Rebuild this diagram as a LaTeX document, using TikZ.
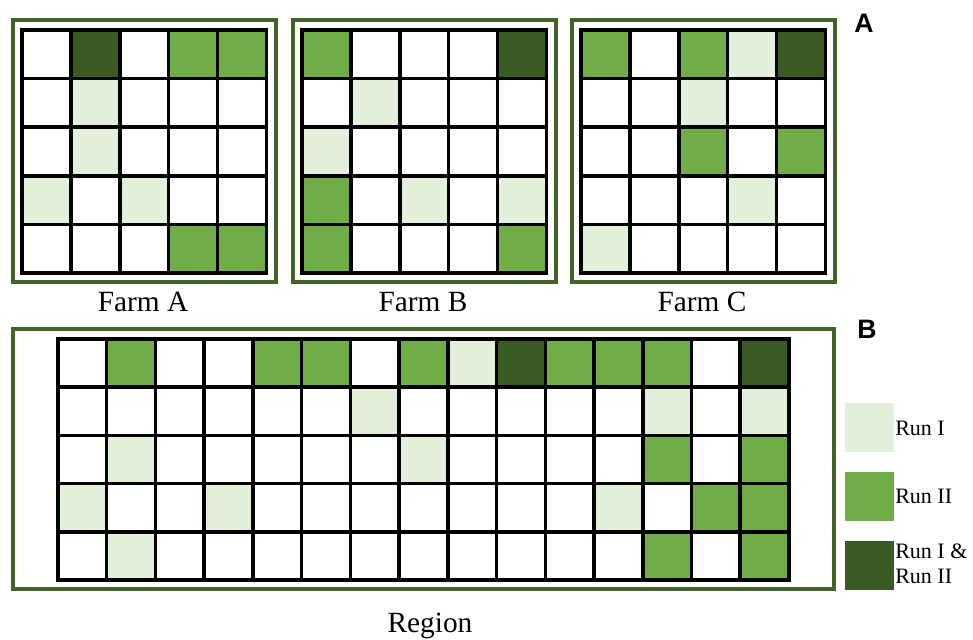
\documentclass[tikz,border=0pt]{standalone}
\usepackage{fontspec}
\setmainfont{Liberation Serif}
\newfontfamily\labfont{Liberation Sans}
\definecolor{cW}{HTML}{FFFFFF}
\definecolor{cL}{HTML}{E2EFDA}
\definecolor{cM}{HTML}{70AD47}
\definecolor{cD}{HTML}{3A5A23}
\definecolor{frmgreen}{HTML}{436429}
\tikzset{
  gridl/.style={line width=2.6pt, black, line cap=rect},
  frm/.style={line width=2.7pt, draw=frmgreen},
  caption/.style={font=\fontsize{22}{26}\selectfont, anchor=base, inner sep=0pt},
  legtext/.style={font=\fontsize{16.5}{19}\selectfont, anchor=base west, inner sep=0pt},
  legbox/.style={minimum size=36.75pt, inner sep=0pt, draw=none},
  panel/.style={font=\labfont\bfseries\fontsize{20}{23}\selectfont, anchor=base, inner sep=0pt}
}
\newcommand\mygrid[7]{%
  \foreach \rowlist [count=\rr] in {#7} {
    \foreach \cc [count=\ii] in \rowlist {
      \fill[fill=c\cc] ({#1+(\ii-1)*#3},{#2+(\rr-1)*#4}) rectangle ++(#3,#4);
    }
  }
  \foreach \ii in {0,...,#5} \draw[gridl] ({#1+\ii*#3},#2) -- ++(0,{#6*#4});
  \foreach \jj in {0,...,#6} \draw[gridl] (#1,{#2+\jj*#4}) -- ++({#5*#3},0);
}
\begin{document}
\begin{tikzpicture}[x=0.75pt,y=-0.75pt]
\fill[white] (0,0) rectangle (973,639);
\useasboundingbox (0,0) rectangle (973,639);

% Farm A
\draw[frm] (13,20) rectangle (276,282);
\mygrid{22}{30}{48.9}{48.6}{5}{5}{{W,D,W,M,M},{W,L,W,W,W},{W,L,W,W,W},{L,W,L,W,W},{W,W,W,M,M}}
\node[caption] (farmA) at (143,311) {Farm A};

% Farm B
\draw[frm] (293,20) rectangle (556,282);
\mygrid{302}{30}{48.9}{48.6}{5}{5}{{M,W,W,W,D},{W,L,W,W,W},{L,W,W,W,W},{M,W,L,W,L},{M,W,W,W,M}}
\node[caption] (farmB) at (423,311) {Farm B};

% Farm C
\draw[frm] (572,20) rectangle (835,282);
\mygrid{581}{30}{48.9}{48.6}{5}{5}{{M,W,M,L,D},{W,W,L,W,W},{W,W,M,W,M},{W,W,W,L,W},{L,W,W,W,W}}
\node[caption] (farmC) at (702,311) {Farm C};

\node[panel] (pA) at (864,32) {A};

% Region
\draw[frm] (13,329) rectangle (834,589);
\mygrid{58}{339}{48.73}{48.2}{15}{5}{{W,M,W,W,M,M,W,M,L,D,M,M,M,W,D},{W,W,W,W,W,W,L,W,W,W,W,W,L,W,L},{W,L,W,W,W,W,W,L,W,W,W,W,M,W,M},{L,W,W,L,W,W,W,W,W,W,W,L,W,M,M},{W,L,W,W,W,W,W,W,W,W,W,W,M,W,M}}
\node[caption] (region) at (430,632) {Region};

\node[panel] (pB) at (867,338) {B};

% Legend
\node[legbox, fill=cL] (legL) at (869.5,427.5) {};
\node[legbox, fill=cM] (legM) at (869.5,496.5) {};
\node[legbox, fill=cD] (legD) at (869.5,565) {};
\node[legtext] (txtL) at (895,435) {Run I};
\node[legtext] (txtM) at (895,503) {Run II};
\node[legtext] (txtD1) at (895,558) {Run I \&};
\node[legtext] (txtD2) at (895,583) {Run II};
\end{tikzpicture}
\end{document}
